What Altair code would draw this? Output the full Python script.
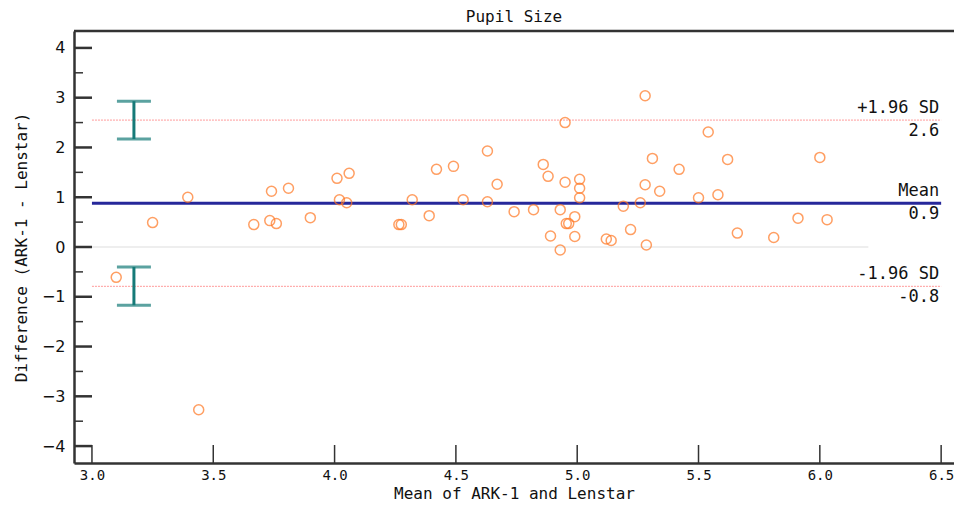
import altair as alt
import pandas as pd

# ---- data ----
mean_x = [3.10, 3.25, 3.395, 3.44, 3.667, 3.733, 3.74, 3.76, 3.81, 3.90,
          4.01, 4.02, 4.05, 4.06, 4.265, 4.275, 4.32, 4.39, 4.42, 4.49,
          4.53, 4.63, 4.63, 4.67, 4.74, 4.82, 4.86, 4.88, 4.89, 4.93,
          4.93, 4.95, 4.95, 4.955, 4.965, 4.99, 4.99, 5.01, 5.01, 5.01,
          5.12, 5.14, 5.19, 5.22, 5.26, 5.28, 5.28, 5.285, 5.31, 5.34,
          5.42, 5.50, 5.54, 5.58, 5.62, 5.66, 5.81, 5.91, 6.00, 6.03]
diff_y = [-0.61, 0.49, 1.00, -3.27, 0.45, 0.53, 1.12, 0.47, 1.18, 0.59,
          1.38, 0.95, 0.89, 1.48, 0.45, 0.45, 0.95, 0.63, 1.56, 1.62,
          0.95, 1.93, 0.91, 1.26, 0.71, 0.75, 1.66, 1.42, 0.22, 0.75,
          -0.06, 2.50, 1.30, 0.47, 0.47, 0.61, 0.21, 1.36, 1.18, 0.99,
          0.16, 0.13, 0.82, 0.35, 0.89, 3.04, 1.25, 0.04, 1.78, 1.12,
          1.56, 0.99, 2.31, 1.05, 1.76, 0.28, 0.19, 0.58, 1.80, 0.55]

bias = 0.88
upper_loa = 2.55
lower_loa = -0.79
ci_x = 3.173
upper_ci = [2.17, 2.93]
lower_ci = [-1.17, -0.40]
line_start = 3.0
line_end = 6.5
zero_end = 6.2

ref_labels_top = ["+1.96 SD", "Mean", "-1.96 SD"]
ref_labels_val = ["2.6", "0.9", "-0.8"]
ref_y = [upper_loa, bias, lower_loa]

x_ticks = [3.0, 3.5, 4.0, 4.5, 5.0, 5.5, 6.0, 6.5]
y_major = [-4, -3, -2, -1, 0, 1, 2, 3, 4]
y_minor = [-3.5, -2.5, -1.5, -0.5, 0.5, 1.5, 2.5, 3.5]

X_DOMAIN = [2.926, 6.553]
Y_DOMAIN = [-4.34, 4.34]
W, H = 880, 432
MONO = "DejaVu Sans Mono"

xs = alt.Scale(domain=X_DOMAIN, nice=False, zero=False)
ys = alt.Scale(domain=Y_DOMAIN, nice=False, zero=False)

pts = pd.DataFrame({"m": mean_x, "d": diff_y})

xaxis = alt.Axis(values=x_ticks, format=".1f", ticks=False, grid=False,
                 domainColor="#333333", domainWidth=2.5,
                 labelFont=MONO, labelFontSize=14, labelColor="#111111",
                 labelPadding=5, title="Mean of ARK-1 and Lenstar",
                 titleFont=MONO, titleFontSize=16, titleFontWeight="normal",
                 titleColor="#111111", titlePadding=3)
yaxis = alt.Axis(values=y_major, format="d", ticks=False, grid=False,
                 domainColor="#333333", domainWidth=2.5,
                 labelFont="DejaVu Sans", labelFontSize=16, labelColor="#111111",
                 labelPadding=9, title="Difference (ARK-1 - Lenstar)",
                 titleFont=MONO, titleFontSize=16, titleFontWeight="normal",
                 titleColor="#111111", titlePadding=12)

points = alt.Chart(pts).mark_point(
    shape="circle", filled=False, color="#ff7722", size=100, strokeWidth=1.5
).encode(
    x=alt.X("m:Q", scale=xs, axis=xaxis),
    y=alt.Y("d:Q", scale=ys, axis=yaxis),
)

zero_df = pd.DataFrame({"x": [line_start], "x2": [zero_end], "y": [0]})
zero_line = alt.Chart(zero_df).mark_rule(color="#dddddd", strokeWidth=1).encode(
    x=alt.X("x:Q", scale=xs), x2="x2", y=alt.Y("y:Q", scale=ys))

loa_df = pd.DataFrame({"x": [line_start] * 2, "x2": [line_end] * 2, "y": [upper_loa, lower_loa]})
loa_lines = alt.Chart(loa_df).mark_rule(color="#ff9a9a", strokeWidth=1, strokeDash=[2, 1]).encode(
    x=alt.X("x:Q", scale=xs), x2="x2", y=alt.Y("y:Q", scale=ys))

mean_df = pd.DataFrame({"x": [line_start], "x2": [line_end], "y": [bias]})
mean_line = alt.Chart(mean_df).mark_rule(color="#26279a", strokeWidth=3).encode(
    x=alt.X("x:Q", scale=xs), x2="x2", y=alt.Y("y:Q", scale=ys))

ci_df = pd.DataFrame({"x": [ci_x, ci_x], "lo": [upper_ci[0], lower_ci[0]],
                      "hi": [upper_ci[1], lower_ci[1]]})
ci_stem = alt.Chart(ci_df).mark_rule(color="#167a78", strokeWidth=3).encode(
    x=alt.X("x:Q", scale=xs), y=alt.Y("lo:Q", scale=ys), y2="hi")
cap_df = pd.DataFrame({"x": [ci_x] * 4,
                       "y": [upper_ci[0], upper_ci[1], lower_ci[0], lower_ci[1]]})
ci_caps = alt.Chart(cap_df).mark_tick(color="#167a78", thickness=3, size=34,
                                      orient="horizontal").encode(
    x=alt.X("x:Q", scale=xs), y=alt.Y("y:Q", scale=ys))

lab_df = pd.DataFrame({"x": [line_end] * 3, "y": ref_y,
                       "top": ref_labels_top, "val": ref_labels_val})
lab_top = alt.Chart(lab_df).mark_text(align="right", baseline="bottom", dy=-3, dx=-2,
                                      font=MONO, fontSize=17, color="#111111").encode(
    x=alt.X("x:Q", scale=xs), y=alt.Y("y:Q", scale=ys), text="top:N")
lab_val = alt.Chart(lab_df).mark_text(align="right", baseline="top", dy=3, dx=-2,
                                      font=MONO, fontSize=17, color="#111111").encode(
    x=alt.X("x:Q", scale=xs), y=alt.Y("y:Q", scale=ys), text="val:N")

# inward tick marks (pixel lengths are styling only)
ymaj_df = pd.DataFrame({"y": y_major})
ymaj = alt.Chart(ymaj_df).mark_rule(color="#333333", strokeWidth=2.5).encode(
    y=alt.Y("y:Q", scale=ys), x=alt.value(0), x2=alt.value(18))
ymin_df = pd.DataFrame({"y": y_minor})
ymin = alt.Chart(ymin_df).mark_rule(color="#333333", strokeWidth=1.5).encode(
    y=alt.Y("y:Q", scale=ys), x=alt.value(0), x2=alt.value(9))
xt_df = pd.DataFrame({"x": x_ticks})
xt = alt.Chart(xt_df).mark_rule(color="#333333", strokeWidth=1.5).encode(
    x=alt.X("x:Q", scale=xs), y=alt.value(H), y2=alt.value(H - 18))

top_border = alt.Chart(pd.DataFrame({"a": [0]})).mark_rule(
    color="#333333", strokeWidth=2.5).encode(
    x=alt.value(0), x2=alt.value(W), y=alt.value(0))

chart = alt.layer(
    zero_line, loa_lines, mean_line, ci_stem, ci_caps, points,
    lab_top, lab_val, ymaj, ymin, xt, top_border
).properties(
    width=W, height=H,
    title=alt.Title("Pupil Size", font=MONO, fontSize=16, fontWeight="normal",
                    color="#111111", anchor="middle", offset=5),
    autosize=alt.AutoSizeParams(type="none"),
    padding={"left": 66, "top": 23, "right": 0, "bottom": 44},
).configure_view(stroke="#cccccc", strokeWidth=1)

chart.save("out.html", embed_options={"renderer": "svg", "actions": False})
